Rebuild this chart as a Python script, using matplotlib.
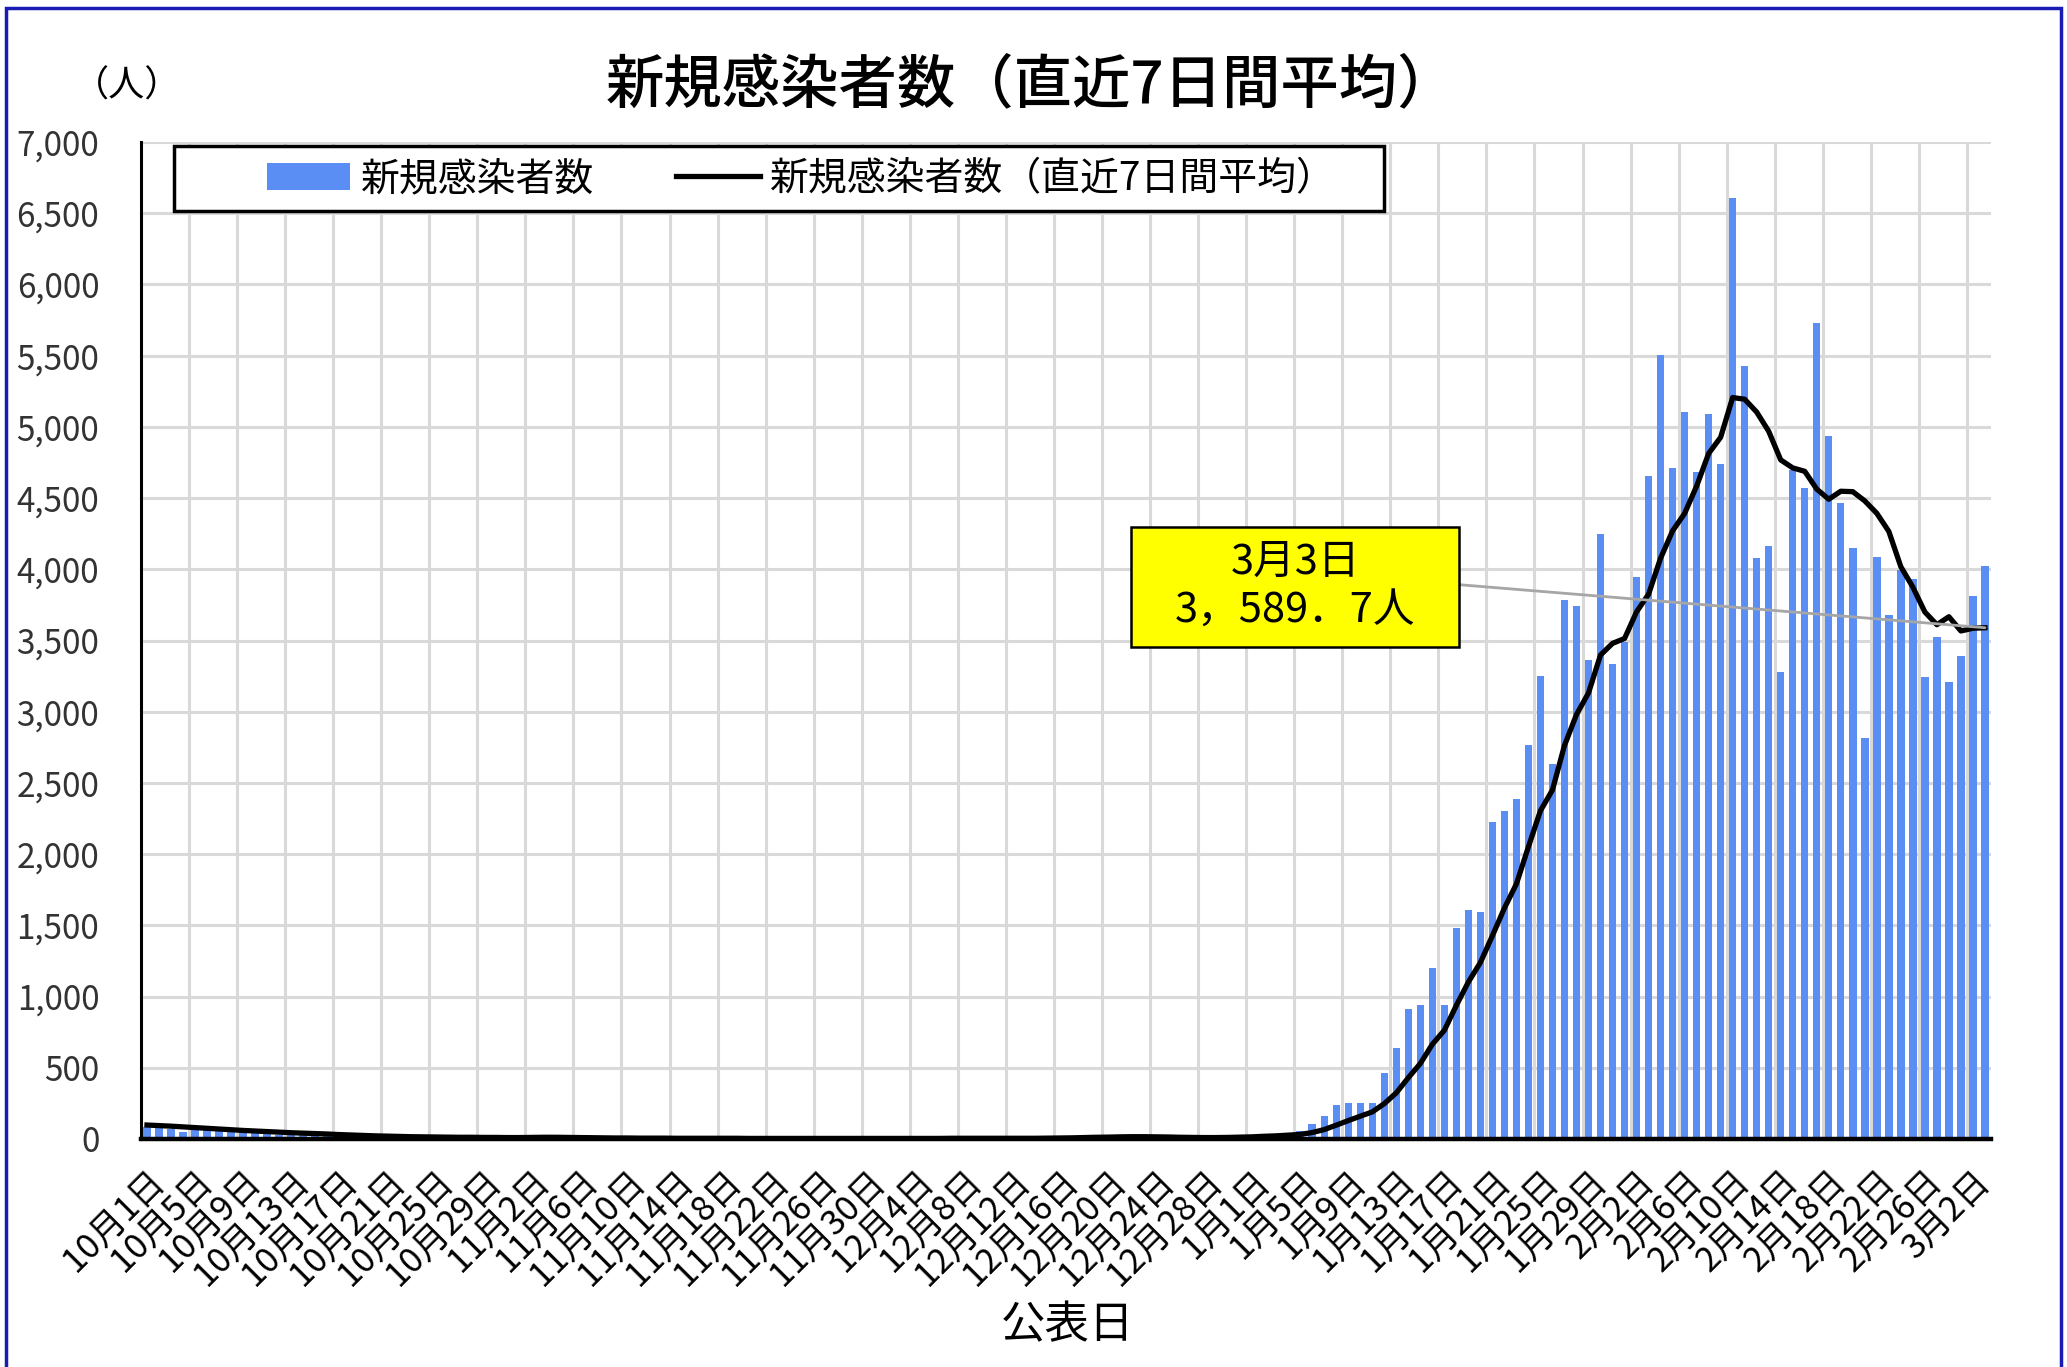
# 新規感染者数（直近7日間平均） chart
import numpy as np
import pandas as pd
import matplotlib
matplotlib.use("Agg")
import matplotlib.pyplot as plt
from matplotlib.patches import Rectangle

plt.rcParams['font.family'] = ['Noto Sans CJK JP', 'DejaVu Sans']

# ----- Data ----- #
dates = pd.date_range("2021-10-01", "2022-03-03", freq="D")
date_labels = [f"{d.month}月{d.day}日" for d in dates]

cases_oct = [85, 78, 70, 52, 68, 62, 56, 50, 46, 44, 38, 28, 32, 34, 28, 24,
             20, 18, 14, 18, 16, 13, 11, 14, 12, 10, 11, 9, 13, 11, 10]
cases_nov = [8, 12, 15, 10, 6, 5, 7, 6, 5, 8, 6, 5, 4, 6, 5, 4, 6, 5, 3, 4,
             5, 4, 3, 5, 4, 3, 4, 5, 3, 4]
cases_dec = [3, 4, 5, 3, 4, 5, 6, 4, 3, 5, 6, 4, 5, 7, 8, 10, 12, 15, 20, 22,
             18, 15, 10, 8, 6, 8, 10, 12, 15, 18, 20]
cases_jan = [25, 30, 35, 45, 54, 108, 164, 242, 254, 254, 254, 460, 638, 911,
             939, 1200, 939, 1479, 1610, 1596, 2225, 2300, 2386, 2765, 3251,
             2635, 3781, 3740, 3363, 4251, 3337]
cases_feb = [3488, 3944, 4653, 5507, 4712, 5105, 4681, 5088, 4740, 6606, 5428,
             4077, 4164, 3276, 4696, 4568, 5729, 4935, 4467, 4147, 2815, 4089,
             3680, 3995, 3930, 3243, 3523, 3210]
cases_mar = [3390, 3813, 4020]

avg_oct = [98, 94, 90, 85, 80, 75, 70, 65, 60, 56, 52, 48, 44, 41, 38, 35, 31,
           28, 25, 22, 20, 18, 16, 15, 14, 13, 12, 12, 11, 11, 10]
avg_nov = [10, 11, 12, 12, 11, 10, 9, 8, 7, 7, 6, 6, 6, 5, 5, 5, 5, 5, 5, 4,
           4, 4, 4, 4, 4, 4, 4, 4, 4, 4]
avg_dec = [4, 4, 4, 4, 4, 4, 5, 5, 5, 5, 5, 5, 5, 5, 6, 7, 8, 10, 12, 13, 15,
           16, 16, 15, 14, 12, 11, 10, 10, 11, 13]
avg_jan = [15, 19, 22, 27, 32, 45, 66, 97, 129, 160, 190, 248, 324, 430, 530,
           665, 763, 938, 1102, 1239, 1427, 1621, 1791, 2052, 2305, 2451, 2763,
           2980, 3132, 3398, 3480]
avg_feb = [3514, 3701, 3825, 4078, 4270, 4392, 4584, 4813, 4927, 5206, 5194,
           5104, 4969, 4768, 4712, 4688, 4563, 4492, 4548, 4545, 4480, 4393,
           4266, 4018, 3875, 3700, 3611, 3667]
avg_mar = [3567, 3586, 3589.7]

cases = cases_oct + cases_nov + cases_dec + cases_jan + cases_feb + cases_mar
avg7 = avg_oct + avg_nov + avg_dec + avg_jan + avg_feb + avg_mar
x = np.arange(len(cases))

last_label = "3月3日\n3，589．7人"

# ----- Figure ----- #
fig = plt.figure(figsize=(20.67, 13.67), dpi=100)
ax = fig.add_axes([0.0682, 0.1668, 0.8950, 0.7293])

bars = ax.bar(x, cases, width=0.62, color='#5B8EF5', zorder=2)
line, = ax.plot(x, avg7, color='black', lw=3.8, zorder=3, solid_joinstyle='round')

ax.set_xlim(-0.5, len(cases) - 0.5)
ax.set_ylim(0, 7000)
ax.set_yticks(range(0, 7001, 500))
ax.set_yticklabels([f"{v:,}" for v in range(0, 7001, 500)])
ax.set_xticks(x[::4])
ax.set_xticklabels(date_labels[::4], rotation=45, ha='right', rotation_mode='anchor')
ax.set_xticks(np.arange(3.5, len(cases) - 1, 4), minor=True)

ax.set_axisbelow(True)
ax.yaxis.grid(True, color='#d9d9d9', lw=2.2)
ax.xaxis.grid(True, which='minor', color='#d9d9d9', lw=2.2)
ax.xaxis.grid(False, which='major')

for s in ['top', 'right']:
    ax.spines[s].set_visible(False)
ax.spines['left'].set_linewidth(2.2)
ax.spines['bottom'].set_linewidth(3.2)

ax.tick_params(axis='y', length=0, pad=30, labelsize=24, labelcolor='#333333')
ax.tick_params(axis='x', which='both', length=0, pad=18, labelsize=25)

# ----- Legend with a plain square frame ----- #
ax.add_patch(Rectangle((0.018, 0.931), 0.654, 0.065, transform=ax.transAxes,
                       fc='white', ec='black', lw=2.5, zorder=5))
leg = ax.legend([bars, line], ["新規感染者数", "新規感染者数（直近7日間平均）"],
                loc='center', bbox_to_anchor=(0.357, 0.963), ncol=2, frameon=False,
                fontsize=28, handlelength=2.15, handletextpad=0.28, columnspacing=2.1)
leg.set_zorder(6)

# ----- Callout for the latest value ----- #
ax.annotate('', xy=(x[-1], avg7[-1]), xytext=(0.7125, 0.556), textcoords='axes fraction',
            arrowprops=dict(arrowstyle='-', color='#a6a6a6', lw=2, shrinkA=0, shrinkB=0),
            zorder=4)
ax.add_patch(Rectangle((0.535, 0.4935), 0.1773, 0.1204, transform=ax.transAxes,
                       fc='#ffff00', ec='black', lw=1.8, zorder=5))
ax.text(0.624, 0.5535, last_label, transform=ax.transAxes, ha='center', va='center',
        fontsize=30, linespacing=1.25, zorder=6)

# ----- Titles ----- #
fig.text(1031 / 2067, 1 - 86 / 1367, "新規感染者数（直近7日間平均）", ha='center', va='center',
         fontsize=42, fontweight='medium')
fig.text(127 / 2067, 1 - 87 / 1367, "（人）", ha='center', va='center', fontsize=26)
fig.text(1068 / 2067, 1 - 1325 / 1367, "公表日", ha='center', va='center', fontsize=32)

# outer blue frame
fig.patches.append(Rectangle((6 / 2067, -0.05), 2055 / 2067, 1.05 - 8 / 1367,
                             transform=fig.transFigure, fill=False, ec='#1a1ab4', lw=2.5))

fig.savefig("out.png", dpi=100)
